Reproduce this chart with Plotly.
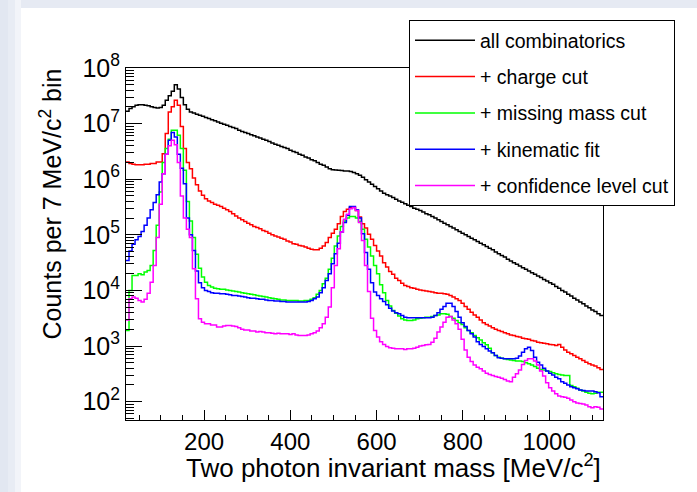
import plotly.graph_objects as go

# ---------------- histogram binning (7 MeV/c^2 bins) ----------------
bin_low = 19.0
bin_width = 7.0
n_bins = 158

# ---------------- series values (counts per bin) ----------------
all_combinatorics = [
    1.66e7, 1.86e7, 2.0e7, 2.14e7, 2.19e7, 2.19e7, 2.14e7, 2.09e7, 2.0e7, 1.95e7,
    1.91e7, 1.95e7, 2.14e7, 2.63e7, 3.16e7, 3.8e7, 5.01e7, 4.17e7, 2.95e7, 2.19e7,
    1.82e7, 1.62e7, 1.55e7, 1.48e7, 1.41e7, 1.35e7, 1.29e7, 1.23e7, 1.175e7, 1.12e7,
    1.07e7, 1.02e7, 9.77e6, 9.33e6, 8.91e6, 8.51e6, 8.13e6, 7.59e6, 7.24e6, 6.92e6,
    6.61e6, 6.31e6, 6.03e6, 5.75e6, 5.5e6, 5.25e6, 5.01e6, 4.79e6, 4.47e6, 4.27e6,
    4.07e6, 3.89e6, 3.72e6, 3.55e6, 3.31e6, 3.16e6, 3.02e6, 2.82e6, 2.69e6, 2.51e6,
    2.4e6, 2.24e6, 2.14e6, 2.0e6, 1.86e6, 1.78e6, 1.66e6, 1.55e6, 1.48e6, 1.46e6,
    1.445e6, 1.43e6, 1.41e6, 1.4e6, 1.38e6, 1.32e6, 1.26e6, 1.175e6, 1.08e6, 9.77e5,
    8.91e5, 8.13e5, 7.41e5, 6.76e5, 6.17e5, 5.62e5, 5.25e5, 5.01e5, 4.68e5, 4.37e5,
    4.07e5, 3.85e5, 3.63e5, 3.39e5, 3.24e5, 3.02e5, 2.88e5, 2.75e5, 2.57e5, 2.4e5,
    2.29e5, 2.14e5, 2.0e5, 1.86e5, 1.74e5, 1.62e5, 1.51e5, 1.41e5, 1.32e5, 1.23e5,
    1.15e5, 1.07e5, 1.0e5, 9.33e4, 8.71e4, 8.13e4, 7.59e4, 7.08e4, 6.61e4, 6.17e4,
    5.75e4, 5.37e4, 4.9e4, 4.57e4, 4.27e4, 3.98e4, 3.63e4, 3.39e4, 3.16e4, 2.95e4,
    2.75e4, 2.57e4, 2.4e4, 2.24e4, 2.09e4, 1.95e4, 1.82e4, 1.7e4, 1.58e4, 1.48e4,
    1.38e4, 1.29e4, 1.175e4, 1.1e4, 1.0e4, 9.33e3, 8.51e3, 7.94e3, 7.24e3, 6.76e3,
    6.17e3, 5.75e3, 5.25e3, 4.9e3, 4.47e3, 4.17e3, 3.8e3, 3.55e3,
]

charge_cut = [
    2.04e6, 1.91e6, 1.86e6, 1.82e6, 1.82e6, 1.82e6, 1.86e6, 1.86e6, 1.91e6, 1.91e6,
    2.04e6, 2.04e6, 2.88e6, 6.61e6, 1.62e7, 2.0e7, 2.63e7, 2.14e7, 8.91e6, 3.55e6,
    2.0e6, 1.55e6, 1.05e6, 7.94e5, 6.17e5, 5.13e5, 4.47e5, 4.07e5, 3.8e5, 3.55e5,
    3.39e5, 3.24e5, 3.02e5, 2.82e5, 2.63e5, 2.4e5, 2.19e5, 2.0e5, 1.86e5, 1.74e5,
    1.62e5, 1.51e5, 1.41e5, 1.35e5, 1.29e5, 1.2e5, 1.15e5, 1.07e5, 1.0e5, 9.55e4,
    9.12e4, 8.71e4, 8.32e4, 7.76e4, 7.41e4, 6.92e4, 6.76e4, 6.46e4, 6.31e4, 6.03e4,
    5.75e4, 5.5e4, 5.37e4, 5.37e4, 5.75e4, 6.31e4, 7.24e4, 8.91e4, 1.07e5, 1.26e5,
    1.58e5, 2.14e5, 2.63e5, 2.88e5, 3.09e5, 3.09e5, 2.75e5, 2.09e5, 1.58e5, 1.32e5,
    1.02e5, 8.32e4, 6.46e4, 5.13e4, 4.17e4, 3.16e4, 2.63e4, 2.19e4, 1.95e4, 1.66e4,
    1.51e4, 1.35e4, 1.23e4, 1.175e4, 1.12e4, 1.1e4, 1.05e4, 1.02e4, 1.0e4, 9.77e3,
    9.55e3, 9.33e3, 9.12e3, 8.91e3, 8.91e3, 8.71e3, 8.51e3, 8.13e3, 7.59e3, 7.08e3,
    6.61e3, 5.89e3, 5.13e3, 4.57e3, 4.07e3, 3.63e3, 3.31e3, 2.95e3, 2.63e3, 2.45e3,
    2.29e3, 2.14e3, 2.0e3, 1.91e3, 1.82e3, 1.74e3, 1.66e3, 1.58e3, 1.55e3, 1.48e3,
    1.45e3, 1.38e3, 1.35e3, 1.32e3, 1.26e3, 1.23e3, 1.175e3, 1.15e3, 1.12e3, 1.1e3,
    1.07e3, 1.05e3, 1.02e3, 1.07e3, 955, 851, 776, 724, 676, 631,
    589, 550, 513, 479, 457, 437, 407, 380,
]

missing_mass_cut = [
    1.91e3, 1.0e4, 1.86e4, 1.86e4, 2.0e4, 1.91e4, 2.14e4, 2.29e4, 2.82e4, 5.25e4,
    1.48e5, 5.89e5, 2.0e6, 3.55e6, 5.25e6, 7.59e6, 7.59e6, 6.17e6, 3.55e6, 1.45e6,
    3.98e5, 1.78e5, 8.91e4, 4.47e4, 2.51e4, 1.74e4, 1.41e4, 1.23e4, 1.15e4, 1.1e4,
    1.07e4, 1.05e4, 1.05e4, 1.02e4, 1.0e4, 9.77e3, 9.55e3, 9.33e3, 9.12e3, 8.91e3,
    8.71e3, 8.51e3, 8.32e3, 8.13e3, 7.94e3, 7.76e3, 7.59e3, 7.41e3, 7.24e3, 7.08e3,
    6.92e3, 6.76e3, 6.76e3, 6.61e3, 6.61e3, 6.61e3, 6.61e3, 6.46e3, 6.46e3, 6.61e3,
    6.61e3, 6.92e3, 7.41e3, 8.51e3, 1.0e4, 1.32e4, 1.66e4, 2.4e4, 3.8e4, 6.31e4,
    9.55e4, 1.41e5, 1.78e5, 2.0e5, 2.14e5, 2.14e5, 2.0e5, 1.74e5, 1.26e5, 8.32e4,
    6.03e4, 4.17e4, 2.82e4, 2.0e4, 1.26e4, 9.12e3, 6.61e3, 5.25e3, 4.37e3, 3.89e3,
    3.47e3, 3.09e3, 2.95e3, 2.88e3, 2.88e3, 2.95e3, 3.09e3, 3.16e3, 3.24e3, 3.31e3,
    3.31e3, 3.39e3, 3.55e3, 3.63e3, 3.8e3, 3.8e3, 3.72e3, 3.39e3, 3.16e3, 2.88e3,
    2.63e3, 2.45e3, 2.14e3, 1.91e3, 1.74e3, 1.55e3, 1.41e3, 1.29e3, 1.15e3, 1.05e3,
    912, 759, 676, 631, 603, 589, 575, 562, 550, 537,
    537, 525, 501, 479, 457, 427, 398, 380, 372, 355,
    347, 331, 316, 309, 302, 295, 295, 195, 186, 174,
    162, 155, 148, 141, 138, 141, 148, 148,
]

kinematic_fit = [
    3.47e4, 5.13e4, 6.76e4, 8.13e4, 9.33e4, 1.15e5, 1.48e5, 2.0e5, 2.82e5, 3.8e5,
    5.25e5, 8.91e5, 1.26e6, 2.82e6, 5.01e6, 6.92e6, 5.75e6, 2.82e6, 1.58e6, 8.32e5,
    2.0e5, 1.0e5, 5.25e4, 2.24e4, 1.38e4, 1.12e4, 1.0e4, 9.55e3, 9.12e3, 8.91e3,
    8.91e3, 8.71e3, 8.71e3, 8.51e3, 8.32e3, 8.13e3, 8.13e3, 7.94e3, 7.76e3, 7.59e3,
    7.41e3, 7.24e3, 7.24e3, 7.08e3, 6.92e3, 6.92e3, 6.76e3, 6.61e3, 6.61e3, 6.46e3,
    6.46e3, 6.31e3, 6.31e3, 6.17e3, 6.17e3, 6.17e3, 6.17e3, 6.17e3, 6.17e3, 6.17e3,
    6.31e3, 6.61e3, 7.08e3, 7.59e3, 9.12e3, 1.12e4, 1.51e4, 2.0e4, 3.02e4, 4.57e4,
    7.08e4, 1.12e5, 1.66e5, 2.24e5, 3.24e5, 3.24e5, 2.82e5, 2.0e5, 1.05e5, 4.79e4,
    2.4e4, 1.38e4, 9.33e3, 8.13e3, 7.08e3, 6.31e3, 5.5e3, 4.79e3, 4.27e3, 3.98e3,
    3.8e3, 3.55e3, 3.31e3, 3.24e3, 3.24e3, 3.24e3, 3.24e3, 3.24e3, 3.24e3, 3.24e3,
    3.24e3, 3.31e3, 3.55e3, 3.98e3, 4.57e3, 5.13e3, 5.89e3, 5.89e3, 5.13e3, 4.17e3,
    3.31e3, 2.63e3, 2.24e3, 1.91e3, 1.66e3, 1.45e3, 1.2e3, 1.07e3, 977, 891,
    813, 759, 676, 617, 603, 589, 589, 589, 589, 603,
    661, 776, 891, 955, 832, 631, 513, 457, 398, 355,
    324, 302, 275, 257, 229, 214, 200, 186, 178, 170,
    162, 158, 155, 155, 155, 151, 145, 123,
]

confidence_level_cut = [
    2.95e3, 7.08e3, 7.59e3, 7.24e3, 6.61e3, 6.17e3, 6.92e3, 8.91e3, 1.41e4, 2.82e4,
    8.91e4, 3.55e5, 1.26e6, 2.82e6, 3.98e6, 5.01e6, 4.17e6, 2.0e6, 5.01e5, 2.0e5,
    1.26e5, 8.91e4, 2.45e4, 7.08e3, 3.09e3, 2.69e3, 2.51e3, 2.51e3, 2.4e3, 2.4e3,
    2.19e3, 2.19e3, 2.29e3, 2.34e3, 2.34e3, 2.29e3, 2.24e3, 2.14e3, 2.0e3, 1.95e3,
    1.95e3, 1.86e3, 1.86e3, 1.78e3, 1.82e3, 1.78e3, 1.74e3, 1.74e3, 1.7e3, 1.66e3,
    1.7e3, 1.66e3, 1.66e3, 1.66e3, 1.62e3, 1.66e3, 1.58e3, 1.55e3, 1.55e3, 1.55e3,
    1.58e3, 1.66e3, 1.74e3, 1.86e3, 2.14e3, 2.51e3, 3.31e3, 5.01e3, 1.12e4, 2.82e4,
    5.62e4, 1.12e5, 1.91e5, 2.34e5, 2.95e5, 3.09e5, 2.75e5, 1.66e5, 7.94e4, 2.82e4,
    9.55e3, 3.16e3, 1.91e3, 1.45e3, 1.2e3, 1.07e3, 977, 933, 912, 891,
    891, 891, 871, 891, 891, 912, 955, 1.0e3, 1.02e3, 1.05e3,
    1.07e3, 1.175e3, 1.38e3, 1.78e3, 2.19e3, 2.69e3, 3.31e3, 3.39e3, 2.95e3, 2.51e3,
    2.0e3, 1.32e3, 851, 631, 525, 457, 417, 389, 355, 324,
    309, 295, 282, 275, 263, 251, 234, 229, 275, 316,
    372, 468, 550, 589, 589, 537, 457, 355, 288, 219,
    178, 155, 138, 126, 123, 120, 115, 107, 100, 95,
    93, 91, 87, 81, 78, 81, 79, 74,
]

series_names = ["all combinatorics", "+ charge cut", "+ missing mass cut",
                "+ kinematic fit", "+ confidence level cut"]
series_colors = ["#000000", "#ff0000", "#00ff00", "#0000ff", "#ff00ff"]
series_values = [all_combinatorics, charge_cut, missing_mass_cut,
                 kinematic_fit, confidence_level_cut]

y_tick_values = [1e2, 1e3, 1e4, 1e5, 1e6, 1e7, 1e8]
y_tick_labels = ["10<sup>2</sup>", "10<sup>3</sup>", "10<sup>4</sup>", "10<sup>5</sup>",
                 "10<sup>6</sup>", "10<sup>7</sup>", "10<sup>8</sup>"]
x_tick_values = [200, 400, 600, 800, 1000]

# ---------------- figure ----------------
W, H = 697, 492
ML, MR, MT, MB = 126, 94, 68, 72
PW, PH = W - ML - MR, H - MT - MB


def px_x(p):
    return (p - ML) / PW


def px_y(p):
    return (H - MB - p) / PH


edges = [bin_low + bin_width * k for k in range(n_bins + 1)]

fig = go.Figure()
for idx, (name, color, vals) in enumerate(zip(series_names, series_colors, series_values)):
    xs = edges[:-1] + [edges[-1]]
    ys = list(vals) + [vals[-1]]
    fig.add_trace(go.Scatter(
        x=xs, y=ys, mode="lines", name=name,
        line=dict(color=color, width=1.5, shape="hv"),
        legendgroup="g%d" % idx,
        hoverinfo="skip",
    ))

font_main = "Liberation Sans, Arial, Helvetica, sans-serif"

fig.update_layout(
    width=W, height=H,
    margin=dict(l=ML, r=MR, t=MT, b=MB, pad=0),
    paper_bgcolor="white", plot_bgcolor="white",
    font=dict(family=font_main, color="black"),
    showlegend=True,
    legend=dict(
        x=px_x(409), y=px_y(20), xanchor="left", yanchor="top",
        bgcolor="white", bordercolor="black", borderwidth=1,
        font=dict(family=font_main, size=19.5, color="black"),
        itemwidth=60, tracegroupgap=8, traceorder="grouped",
    ),
    xaxis=dict(
        range=[bin_low, bin_low + bin_width * n_bins],
        showgrid=False, zeroline=False,
        showline=True, linecolor="black", linewidth=1, mirror=True,
        ticks="inside", ticklen=10, tickwidth=1, tickcolor="black",
        tickvals=x_tick_values,
        tickfont=dict(family=font_main, size=24, color="black"),
        minor=dict(ticks="inside", ticklen=5, tickwidth=1, tickcolor="black",
                   dtick=50, tick0=0, showgrid=False),
    ),
    yaxis=dict(
        type="log", range=[1.67, 8.0],
        showgrid=False, zeroline=False,
        showline=True, linecolor="black", linewidth=1, mirror=True,
        ticks="inside", ticklen=16, tickwidth=1, tickcolor="black",
        tickvals=y_tick_values, ticktext=y_tick_labels,
        tickfont=dict(family=font_main, size=25, color="black"),
        minor=dict(ticks="inside", ticklen=8, tickwidth=1, tickcolor="black",
                   dtick="D1", showgrid=False),
    ),
    annotations=[
        dict(text="Two photon invariant mass [MeV/c<sup>2</sup>]",
             xref="paper", yref="paper", x=1.0, y=px_y(466),
             xanchor="right", yanchor="middle", showarrow=False,
             font=dict(family=font_main, size=26, color="black")),
        dict(text="Counts per 7 MeV/c<sup>2</sup> bin",
             xref="paper", yref="paper", x=px_x(51), y=px_y(67),
             xanchor="center", yanchor="top", textangle=-90, showarrow=False,
             font=dict(family=font_main, size=25, color="black")),
    ],
    shapes=[
        dict(type="rect", xref="paper", yref="paper", layer="below",
             x0=px_x(0), x1=px_x(W), y0=px_y(8), y1=px_y(0),
             fillcolor="#e6eaf3", line=dict(width=0)),
        dict(type="rect", xref="paper", yref="paper", layer="below",
             x0=px_x(0), x1=px_x(8), y0=px_y(H), y1=px_y(0),
             fillcolor="#e2e7f1", line=dict(width=0)),
        dict(type="rect", xref="paper", yref="paper", layer="below",
             x0=px_x(8), x1=px_x(15), y0=px_y(H), y1=px_y(0),
             fillcolor="#e8ecf4", line=dict(width=0)),
        dict(type="rect", xref="paper", yref="paper", layer="below",
             x0=px_x(15), x1=px_x(21), y0=px_y(H), y1=px_y(0),
             fillcolor="#f2f4f9", line=dict(width=0)),
    ],
)

fig.write_html("out.html")
